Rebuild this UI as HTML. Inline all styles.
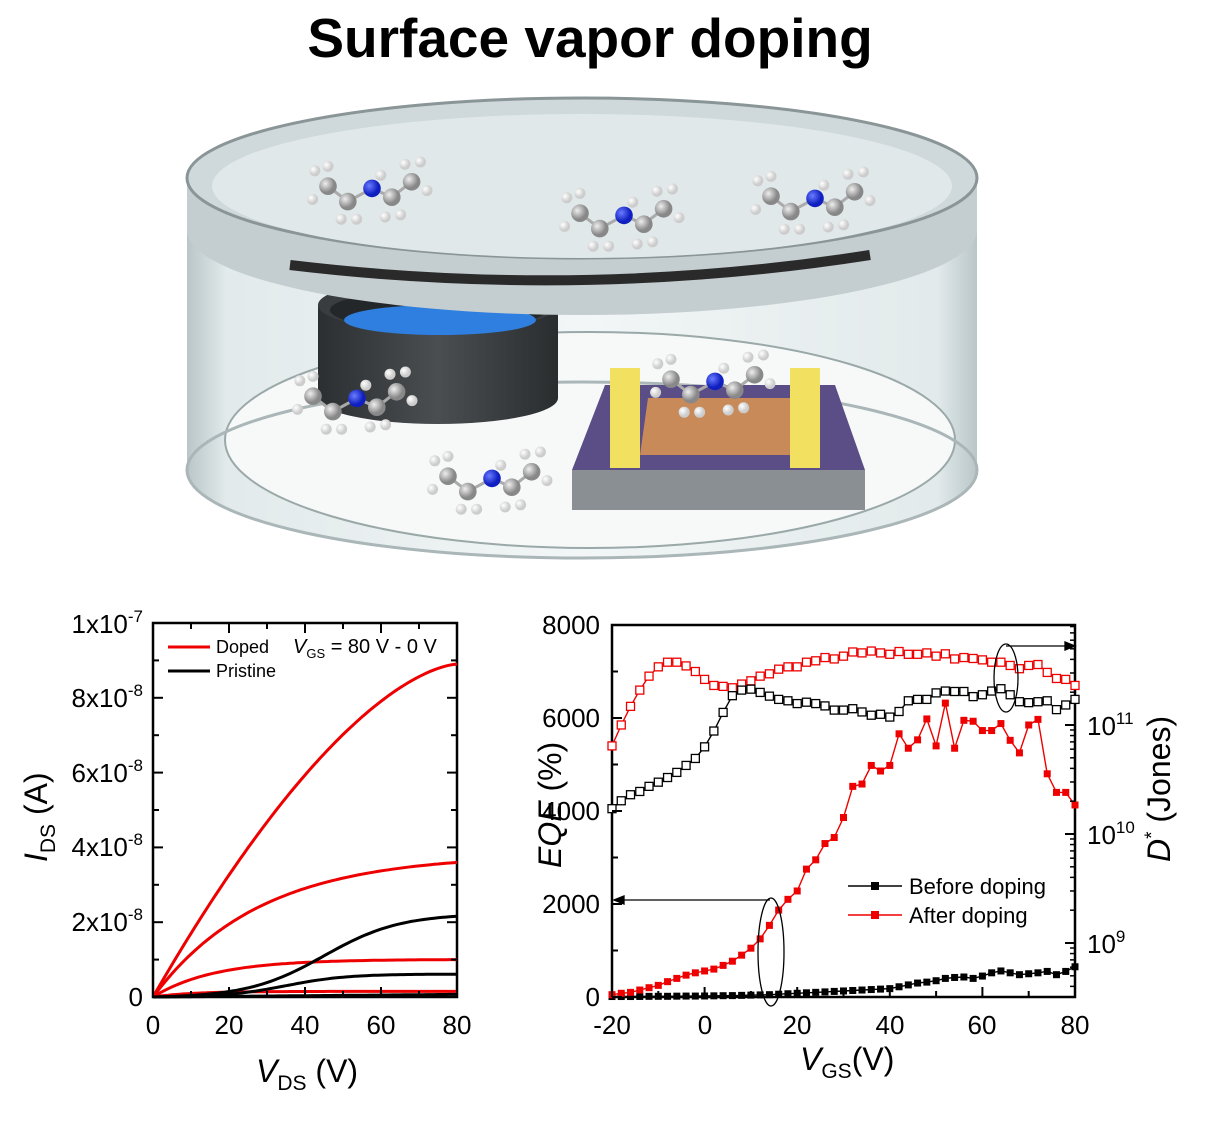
<!DOCTYPE html>
<html><head><meta charset="utf-8">
<style>
html,body{margin:0;padding:0;background:#fff;}
body{width:1212px;height:1117px;overflow:hidden;font-family:"Liberation Sans",Arial,sans-serif;}
svg text{font-family:"Liberation Sans",Arial,sans-serif;}
</style></head>
<body>
<svg id="s" width="1212" height="1117" viewBox="0 0 1212 1117" xmlns="http://www.w3.org/2000/svg">
<defs>
<linearGradient id="wall" x1="0" x2="1" y1="0" y2="0">
<stop offset="0" stop-color="#b9c6c8"/><stop offset="0.05" stop-color="#e2eaeb"/><stop offset="0.5" stop-color="#f2f6f6"/><stop offset="0.95" stop-color="#e2eaeb"/><stop offset="1" stop-color="#b9c6c8"/>
</linearGradient>
<linearGradient id="cru" x1="0" x2="1"><stop offset="0" stop-color="#2c2f31"/><stop offset="0.5" stop-color="#4a4e50"/><stop offset="1" stop-color="#2a2d2f"/></linearGradient>
<radialGradient id="gC" cx="0.35" cy="0.35"><stop offset="0" stop-color="#eee"/><stop offset="1" stop-color="#888"/></radialGradient>
<radialGradient id="gH" cx="0.35" cy="0.35"><stop offset="0" stop-color="#fff"/><stop offset="1" stop-color="#ccc"/></radialGradient>
<radialGradient id="gN" cx="0.35" cy="0.35"><stop offset="0" stop-color="#6a7cff"/><stop offset="1" stop-color="#1020c0"/></radialGradient>
</defs>
<text x="590" y="57" text-anchor="middle" font-size="55" font-weight="bold">Surface vapor doping</text>

<g>
<path d="M187 185 L187 470 A395 88 0 0 0 977 470 L977 185 Z" fill="url(#wall)"/>
<ellipse cx="590" cy="440" rx="365" ry="108" fill="#f7f9f9" stroke="#9aa8a8" stroke-width="2"/>
<ellipse cx="582" cy="470" rx="395" ry="88" fill="none" stroke="#aab6b7" stroke-width="3"/>
<path d="M318 305 L318 398 A120 26 0 0 0 558 398 L558 305 Z" fill="url(#cru)"/>
<ellipse cx="438" cy="305" rx="120" ry="26" fill="#3a3d3f"/>
<ellipse cx="438" cy="310" rx="108" ry="20" fill="#23272a"/>
<ellipse cx="440" cy="320" rx="96" ry="15" fill="#2f7fe0"/>
<polygon points="572,470 865,470 865,510 572,510" fill="#8a8f94"/>
<polygon points="572,470 605,385 835,385 865,470" fill="#5b4d85"/>
<polygon points="640,455 790,455 790,398 648,398" fill="#c98a5a"/>
<polygon points="610,368 640,368 640,468 610,468" fill="#f2e060"/>
<polygon points="790,368 820,368 820,468 790,468" fill="#f2e060"/>
<path d="M187 170 L187 230 A395 85 0 0 0 977 230 L977 170 Z" fill="#c4cdcf"/>
<ellipse cx="582" cy="178" rx="395" ry="80" fill="#cfd8da" stroke="#8a9597" stroke-width="3"/>
<ellipse cx="582" cy="186" rx="370" ry="72" fill="#e0e8ea"/>
<path d="M290 265 Q582 300 870 255" stroke="#2a2a2a" stroke-width="10" fill="none"/>
</g>
<g id="mols"></g>

<g id="left" fill="none">
<rect x="153" y="623" width="304" height="374" stroke="#000" stroke-width="2.5" fill="none"/>
</g>
<g font-size="26" fill="#000">
<text x="143" y="1006" text-anchor="end">0</text>
<text x="143" y="931" text-anchor="end">2x10<tspan dy="-11" font-size="17">-8</tspan></text>
<text x="143" y="856" text-anchor="end">4x10<tspan dy="-11" font-size="17">-8</tspan></text>
<text x="143" y="782" text-anchor="end">6x10<tspan dy="-11" font-size="17">-8</tspan></text>
<text x="143" y="707" text-anchor="end">8x10<tspan dy="-11" font-size="17">-8</tspan></text>
<text x="143" y="633" text-anchor="end">1x10<tspan dy="-11" font-size="17">-7</tspan></text>
<text x="153" y="1034" text-anchor="middle">0</text>
<text x="229" y="1034" text-anchor="middle">20</text>
<text x="305" y="1034" text-anchor="middle">40</text>
<text x="381" y="1034" text-anchor="middle">60</text>
<text x="457" y="1034" text-anchor="middle">80</text>
<text x="256" y="1082" font-size="32"><tspan font-style="italic">V</tspan><tspan font-size="21" dy="8">DS</tspan><tspan dy="-8"> (V)</tspan></text>
<text transform="translate(47,862) rotate(-90)" font-size="32"><tspan font-style="italic">I</tspan><tspan font-size="21" dy="8">DS</tspan><tspan dy="-8"> (A)</tspan></text>
<text x="216" y="653" font-size="18">Doped</text>
<text x="216" y="677" font-size="18">Pristine</text>
<text x="293" y="653" font-size="20"><tspan font-style="italic">V</tspan><tspan font-size="13" dy="5">GS</tspan><tspan dy="-5"> = 80 V - 0 V</tspan></text>
</g>
<line x1="168" y1="647" x2="210" y2="647" stroke="#e00" stroke-width="3"/>
<line x1="168" y1="671" x2="210" y2="671" stroke="#000" stroke-width="3"/>

<rect x="612" y="625" width="463" height="372" stroke="#000" stroke-width="2.5" fill="none"/>
<g id="right"></g>
<g font-size="26" fill="#000">
<text x="600" y="1006" text-anchor="end">0</text>
<text x="600" y="913" text-anchor="end">2000</text>
<text x="600" y="820" text-anchor="end">4000</text>
<text x="600" y="727" text-anchor="end">6000</text>
<text x="600" y="634" text-anchor="end">8000</text>
<text x="612" y="1034" text-anchor="middle">-20</text>
<text x="705" y="1034" text-anchor="middle">0</text>
<text x="797" y="1034" text-anchor="middle">20</text>
<text x="890" y="1034" text-anchor="middle">40</text>
<text x="982" y="1034" text-anchor="middle">60</text>
<text x="1075" y="1034" text-anchor="middle">80</text>
<text x="1087" y="735">10<tspan dy="-11" font-size="17">11</tspan></text>
<text x="1087" y="844">10<tspan dy="-11" font-size="17">10</tspan></text>
<text x="1087" y="953">10<tspan dy="-11" font-size="17">9</tspan></text>
<text x="800" y="1070" font-size="32"><tspan font-style="italic">V</tspan><tspan font-size="21" dy="8">GS</tspan><tspan dy="-8">(V)</tspan></text>
<text transform="translate(561,868) rotate(-90)" font-size="32"><tspan font-style="italic">EQE</tspan> (%)</text>
<text transform="translate(1170,862) rotate(-90)" font-size="32"><tspan font-style="italic">D</tspan><tspan font-size="19" dy="-12">*</tspan><tspan dy="12"> (Jones)</tspan></text>
<text x="909" y="894" font-size="22">Before doping</text>
<text x="909" y="923" font-size="22">After doping</text>
</g>
<line x1="848" y1="886" x2="902" y2="886" stroke="#000" stroke-width="1.5"/><rect x="871" y="882" width="8" height="8" fill="#000"/>
<line x1="848" y1="915" x2="902" y2="915" stroke="#e00" stroke-width="1.5"/><rect x="871" y="911" width="8" height="8" fill="#e00"/>
<g stroke="#000" stroke-width="1.3" fill="none">
<line x1="770" y1="900" x2="616" y2="900"/><polygon points="614,900 624,896 624,904" fill="#000"/>
<ellipse cx="771" cy="952" rx="13" ry="54"/>
<ellipse cx="1006" cy="678" rx="12" ry="34"/>
<line x1="1006" y1="646" x2="1072" y2="646"/><polygon points="1075,646 1065,642 1065,650" fill="#000"/>
</g>

<script>
var NS="http://www.w3.org/2000/svg";
function el(p,t,a){var e=document.createElementNS(NS,t);for(var k in a)e.setAttribute(k,a[k]);p.appendChild(e);return e;}
var mg=document.getElementById('mols');
function mol(x,y,s){
 var C=[[-40,-8],[-22,6],[18,2],[36,-12]];
 var N=[0,-6];
 var bonds=[[N,C[1]],[N,C[2]],[C[0],C[1]],[C[2],C[3]]];
 bonds.forEach(function(b){el(mg,'line',{x1:x+b[0][0]*s,y1:y+b[0][1]*s,x2:x+b[1][0]*s,y2:y+b[1][1]*s,stroke:'#aaa','stroke-width':3});});
 var H=[[-52,-22],[-54,4],[-40,-26],[-28,22],[-14,22],[12,20],[26,18],[44,-30],[50,-4],[30,-28],[8,-18]];
 H.forEach(function(h){el(mg,'circle',{cx:x+h[0]*s,cy:y+h[1]*s,r:5*s,fill:'url(#gH)'});});
 C.forEach(function(c){el(mg,'circle',{cx:x+c[0]*s,cy:y+c[1]*s,r:8*s,fill:'url(#gC)'});});
 el(mg,'circle',{cx:x,cy:y-6*s,r:8*s,fill:'url(#gN)'});
}
mol(372,195,1.1);mol(624,222,1.1);mol(815,205,1.1);mol(357,405,1.1);mol(715,388,1.1);mol(492,485,1.1);

var L=document.getElementById('left');
function lx(v){return 153+v*304/80;} function ly(i){return 997-i*37.4;}
function curve(f,col){var d='';for(var v=0;v<=80;v+=1){d+=(v?'L':'M')+lx(v).toFixed(1)+' '+ly(f(v)).toFixed(1);}el(L,'path',{d:d,stroke:col,'stroke-width':3,fill:'none'});}
curve(function(v){return 8.9*(1-Math.pow(1-v/80,1.6))*0.98+0.02*v/80*8.9;},'#e00');
curve(function(v){return 3.6*(1-Math.exp(-v/28))/(1-Math.exp(-80/28));},'#e00');
curve(function(v){return 1.0*(1-Math.exp(-v/16))/(1-Math.exp(-5));},'#e00');
curve(function(v){return 0.15*(1-Math.exp(-v/10));},'#e00');
curve(function(v){return 2.25/(1+Math.exp(-(v-45)/10))-2.25/(1+Math.exp(4.5));},'#000');
curve(function(v){return 0.62/(1+Math.exp(-(v-35)/8))-0.62/(1+Math.exp(35/8));},'#000');
curve(function(v){return 0.07*v/80;},'#000');
for(var v=0;v<=80;v+=10){var x=lx(v);el(L,'line',{x1:x,y1:997,x2:x,y2:v%20?991:987,stroke:'#000','stroke-width':2});el(L,'line',{x1:x,y1:623,x2:x,y2:v%20?629:633,stroke:'#000','stroke-width':2});}
for(var i=0;i<=10;i++){var y=ly(i);el(L,'line',{x1:153,y1:y,x2:i%2?159:163,y2:y,stroke:'#000','stroke-width':2});el(L,'line',{x1:457,y1:y,x2:i%2?451:447,y2:y,stroke:'#000','stroke-width':2});}

var R=document.getElementById('right');
function rx(v){return 612+(v+20)*463/100;} function ry(e){return 997-e*372/8000;}
var redF=[50,80,100,150,200,250,330,400,470,520,560,600,680,770,900,1050,1250,1540,1870,2100,2280,2750,2950,3300,3430,3860,4530,4580,4980,4860,4980,5660,5350,5530,5980,5400,6320,5350,5950,5930,5730,5730,5880,5520,5250,5850,5970,4800,4400,4400,4130];
var blkF=[10,10,10,12,14,15,15,18,20,20,22,25,28,30,35,40,45,50,60,70,80,90,100,110,120,130,140,150,160,170,180,220,260,300,320,350,400,420,430,400,450,520,560,520,480,500,520,550,480,550,650];
var redO=[5400,5850,6250,6600,6900,7100,7200,7200,7120,7000,6830,6700,6680,6650,6730,6800,6900,6950,7050,7100,7100,7200,7230,7300,7270,7330,7420,7400,7440,7400,7370,7430,7370,7370,7400,7330,7380,7270,7300,7280,7250,7200,7200,7130,7060,7130,7150,6980,6850,6830,6700];
var blkO=[4050,4220,4350,4420,4530,4620,4720,4830,4980,5130,5380,5720,6120,6480,6600,6620,6550,6470,6400,6370,6310,6340,6310,6260,6170,6170,6200,6130,6060,6080,6020,6140,6370,6400,6400,6540,6580,6570,6570,6460,6500,6580,6630,6500,6350,6330,6350,6370,6180,6280,6400];
function series(arr,col,open){var d='';arr.forEach(function(e,i){d+=(i?'L':'M')+rx(-20+2*i).toFixed(1)+' '+ry(e).toFixed(1);});
 el(R,'path',{d:d,stroke:col,'stroke-width':1.4,fill:'none'});
 arr.forEach(function(e,i){var x=rx(-20+2*i),y=ry(e);
  if(open)el(R,'rect',{x:x-4,y:y-4,width:8,height:8,fill:'#fff',stroke:col,'stroke-width':1.3});
  else el(R,'rect',{x:x-3.5,y:y-3.5,width:7,height:7,fill:col});});}
series(redO,'#e00',true);series(blkO,'#000',true);series(blkF,'#000',false);series(redF,'#e00',false);
for(var v=-20;v<=80;v+=10){var x=rx(v);el(R,'line',{x1:x,y1:997,x2:x,y2:v%20?991:987,stroke:'#000','stroke-width':2});}
for(var e=0;e<=8000;e+=1000){var y=ry(e);el(R,'line',{x1:612,y1:y,x2:e%2000?618:622,y2:y,stroke:'#000','stroke-width':2});}
[1052,943,834,725].forEach(function(b){for(var k=1;k<=9;k++){var y=b-Math.log10(k)*109;if(y<625||y>997)continue;el(R,'line',{x1:1075,y1:y,x2:k==1?1065:1070,y2:y,stroke:'#000','stroke-width':k==1?2:1.5});}});
</script>
</svg>
</body></html>
